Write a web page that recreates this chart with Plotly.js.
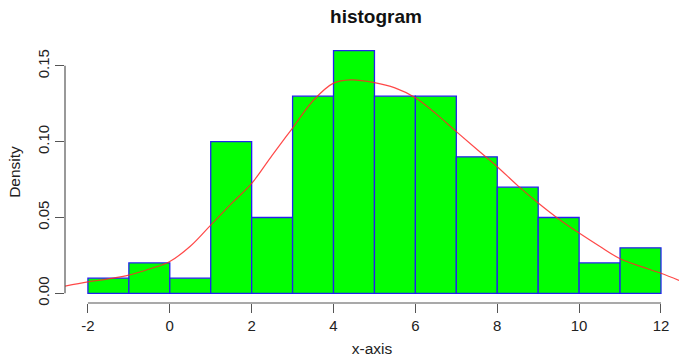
<!DOCTYPE html>
<html>
<head>
<meta charset="utf-8">
<script src="https://cdn.plot.ly/plotly-3.0.1.min.js"></script>
<style>html,body{margin:0;padding:0;background:#fff;}#chart{width:679px;height:362px;}</style>
</head>
<body>
<div id="chart"></div>
<script>
// Histogram bins (left edges) and densities
const binLeft = [-2, -1, 0, 1, 2, 3, 4, 5, 6, 7, 8, 9, 10, 11];
const binWidth = 1;
const density = [0.01, 0.02, 0.01, 0.10, 0.05, 0.13, 0.16, 0.13, 0.13, 0.09, 0.07, 0.05, 0.02, 0.03];

// Red density curve
const curveX = [-2.56, -2, -1.5, -1, -0.5, 0, 0.5, 1, 1.5, 2, 2.5, 3, 3.5, 4, 4.42, 5, 5.5, 6, 6.5, 7, 7.5, 8, 8.5, 9, 9.5, 10, 10.5, 11, 11.5, 12, 12.44];
const curveY = [0.0047, 0.0075, 0.0095, 0.0120, 0.0160, 0.0210, 0.0310, 0.0450, 0.0590, 0.0725, 0.0910, 0.1090, 0.1270, 0.1386, 0.1408, 0.1390, 0.1355, 0.1290, 0.1185, 0.1066, 0.0950, 0.0835, 0.0710, 0.0595, 0.0490, 0.0397, 0.0310, 0.0228, 0.0178, 0.0132, 0.0085];

// Axis ticks
const xTicks = [-2, 0, 2, 4, 6, 8, 10, 12];
const yTicks = [0.00, 0.05, 0.10, 0.15];

const font = 'Liberation Sans, Arial, sans-serif';
const axisColor = '#555555';

const traces = [
  {
    type: 'bar',
    x: binLeft,
    y: density,
    width: binLeft.map(() => binWidth),
    offset: 0,
    marker: {color: '#00ff00', line: {color: '#2222ee', width: 1.3}},
    hoverinfo: 'x+y'
  },
  {
    type: 'scatter',
    mode: 'lines',
    x: curveX,
    y: curveY,
    line: {color: 'rgba(255,40,40,0.85)', width: 1.2, shape: 'spline'},
    hoverinfo: 'x+y'
  }
];

const layout = {
  width: 679, height: 362,
  margin: {l: 65, r: 0, t: 41, b: 59, pad: 0},
  paper_bgcolor: '#ffffff', plot_bgcolor: '#ffffff',
  showlegend: false,
  bargap: 0,
  font: {family: font, color: '#222222', size: 15},
  title: {
    text: 'histogram',
    font: {family: font, size: 19, color: '#111111', weight: 'bold'},
    xref: 'container', x: 376 / 679, xanchor: 'center',
    yref: 'container', y: 1 - 16.5 / 362, yanchor: 'middle'
  },
  xaxis: {
    range: [-2.56, 12.44],
    tickvals: xTicks,
    ticktext: xTicks.map(String),
    ticks: 'outside', ticklen: 9, tickwidth: 1, tickcolor: axisColor,
    showline: false, showgrid: false, zeroline: false,
    tickfont: {family: font, size: 15, color: '#222222'},
    title: {text: 'x-axis', font: {family: font, size: 15.5, color: '#222222'}, standoff: 10},
    fixedrange: true
  },
  yaxis: {
    range: [-0.0064, 0.1664],
    tickvals: yTicks,
    ticktext: yTicks.map(v => v.toFixed(2)),
    tickangle: -90,
    ticks: 'outside', ticklen: 9, tickwidth: 1, tickcolor: axisColor,
    showline: false, showgrid: false, zeroline: false,
    tickfont: {family: font, size: 15, color: '#222222'},
    title: {text: 'Density', font: {family: font, size: 15.5, color: '#222222'}, standoff: 10},
    fixedrange: true
  },
  shapes: [
    {type: 'line', xref: 'x', yref: 'paper', x0: xTicks[0], x1: xTicks[xTicks.length - 1], y0: 0, y1: 0,
     line: {color: axisColor, width: 1.2}},
    {type: 'line', xref: 'paper', yref: 'y', x0: 0, x1: 0, y0: yTicks[0], y1: yTicks[yTicks.length - 1],
     line: {color: axisColor, width: 1.2}}
  ]
};

Plotly.newPlot('chart', traces, layout, {displayModeBar: false, staticPlot: true});
</script>
</body>
</html>
